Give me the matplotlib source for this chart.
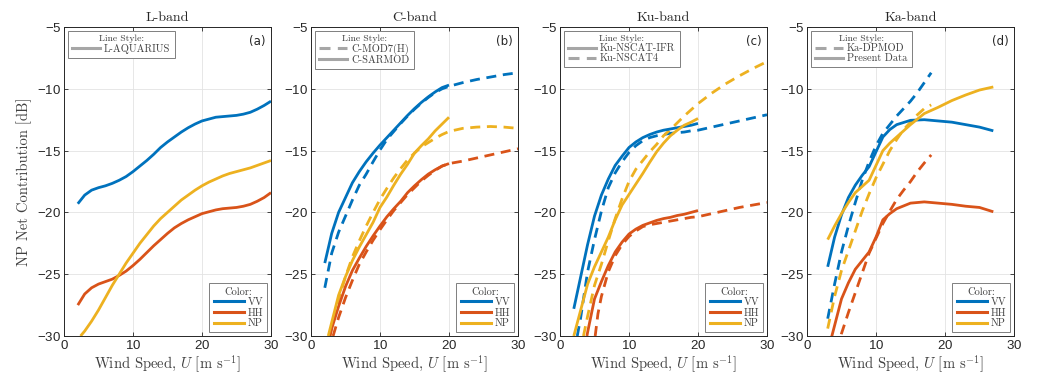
import matplotlib
matplotlib.use("Agg")
import matplotlib.pyplot as plt
from matplotlib.lines import Line2D

plt.rcParams['font.family'] = 'serif'
plt.rcParams['font.serif'] = ['cmr10']
plt.rcParams['mathtext.fontset'] = 'cm'
plt.rcParams['axes.formatter.use_mathtext'] = True

C_VV = '#0072BD'
C_HH = '#D95319'
C_NP = '#EDB120'

# ---------------- L-band ----------------
L_U = [2, 3, 4, 5, 6, 7, 8, 9, 10, 11, 12, 13, 14, 15, 16, 17, 18, 19, 20,
       21, 22, 23, 24, 25, 26, 27, 28, 29, 30]
L_VV = [-19.3, -18.6, -18.2, -18.0, -17.85, -17.65, -17.4, -17.1, -16.7, -16.25,
        -15.8, -15.3, -14.75, -14.3, -13.9, -13.5, -13.15, -12.85, -12.6, -12.45,
        -12.3, -12.25, -12.2, -12.15, -12.05, -11.9, -11.65, -11.35, -11.0]
L_HH = [-27.5, -26.6, -26.1, -25.8, -25.6, -25.4, -25.1, -24.75, -24.3, -23.8,
        -23.25, -22.7, -22.2, -21.7, -21.25, -20.9, -20.6, -20.35, -20.1, -19.95,
        -19.8, -19.7, -19.65, -19.6, -19.5, -19.35, -19.1, -18.8, -18.4]
L_NP_U = [2.4, 3, 4, 5, 6, 7, 8, 9, 10, 11, 12, 13, 14, 15, 16, 17, 18, 19, 20,
          21, 22, 23, 24, 25, 26, 27, 28, 29, 30]
L_NP = [-30.0, -29.6, -28.8, -27.9, -26.9, -25.9, -25.0, -24.1, -23.3, -22.5,
        -21.8, -21.1, -20.5, -20.0, -19.5, -19.0, -18.6, -18.2, -17.85, -17.55,
        -17.3, -17.05, -16.85, -16.7, -16.55, -16.4, -16.2, -16.0, -15.8]

# ---------------- C-band ----------------
C_SAR_VV_U = [2, 3, 4, 5, 6, 7, 8, 9, 10, 11, 12, 13, 14, 15, 16, 17, 18, 19, 20]
C_SAR_VV = [-24.1, -21.7, -20.0, -18.8, -17.6, -16.7, -15.9, -15.2, -14.55, -13.95,
            -13.35, -12.75, -12.15, -11.6, -11.1, -10.65, -10.25, -9.9, -9.7]
C_SAR_NP_U = [2.5, 3, 4, 5, 6, 7, 8, 9, 10, 11, 12, 13, 14, 15, 16, 17, 18, 19, 20]
C_SAR_NP = [-30.0, -28.9, -26.7, -25.2, -23.9, -22.8, -21.8, -20.8, -19.6, -18.75,
            -17.8, -16.9, -16.1, -15.2, -14.6, -14.05, -13.4, -12.85, -12.3]
C_SAR_HH_U = [2.75, 3, 4, 5, 6, 7, 8, 9, 10, 11, 12, 13, 14, 15, 16, 17, 18, 19, 20]
C_SAR_HH = [-30.0, -29.4, -27.6, -26.0, -24.7, -23.7, -22.75, -21.9, -21.1, -20.35,
            -19.7, -19.1, -18.4, -17.85, -17.35, -16.9, -16.55, -16.25, -16.05]
C_MOD_VV_U = [2, 3, 4, 5, 6, 7, 8, 9, 10, 11, 12, 13, 14, 15, 16, 17, 18, 19, 20,
              22, 24, 26, 28, 30]
C_MOD_VV = [-26.1, -23.3, -21.6, -20.3, -19.0, -17.8, -16.9, -15.9, -14.95, -14.1,
            -13.45, -12.8, -12.2, -11.65, -11.15, -10.7, -10.3, -10.0, -9.8,
            -9.5, -9.25, -9.05, -8.85, -8.7]
C_MOD_NP_U = [2.75, 3, 3.5, 4, 5, 6, 7, 8, 9, 10, 11, 12, 13, 14, 15, 16, 17, 18, 19,
              20, 22, 24, 26, 28, 30]
C_MOD_NP = [-30.0, -29.3, -28.2, -27.0, -25.2, -23.6, -22.3, -21.1, -20.0, -18.95,
            -18.05, -17.2, -16.45, -15.75, -15.2, -14.7, -14.35, -14.0, -13.7,
            -13.45, -13.2, -13.1, -13.05, -13.1, -13.2]
C_MOD_HH_U = [3.2, 4, 5, 6, 7, 8, 9, 10, 11, 12, 13, 14, 15, 16, 17, 18, 19, 20,
              22, 24, 26, 28, 30]
C_MOD_HH = [-30.0, -28.5, -26.9, -25.5, -24.2, -23.2, -22.25, -21.4, -20.6, -19.85,
            -19.2, -18.55, -18.0, -17.45, -17.0, -16.6, -16.25, -16.05,
            -15.85, -15.6, -15.35, -15.1, -14.85]

# ---------------- Ku-band ----------------
KU_IFR_VV_U = [2, 3, 4, 5, 6, 7, 8, 9, 10, 11, 12, 13, 14, 15, 16, 17, 18, 19, 20]
KU_IFR_VV = [-27.8, -25.2, -22.6, -20.3, -18.6, -17.3, -16.2, -15.45, -14.75, -14.3,
             -13.95, -13.7, -13.5, -13.35, -13.25, -13.15, -13.05, -12.95, -12.8]
KU_IFR_NP_U = [2, 3, 4, 5, 6, 7, 8, 9, 10, 11, 12, 13, 14, 15, 16, 17, 18, 19, 20]
KU_IFR_NP = [-30.0, -27.9, -25.8, -24.4, -23.2, -22.0, -20.6, -19.4, -18.55, -17.7,
             -16.85, -15.95, -15.1, -14.4, -13.8, -13.35, -12.95, -12.7, -12.4]
KU_IFR_HH_U = [3.9, 4, 5, 6, 7, 8, 9, 10, 11, 12, 13, 14, 15, 16, 17, 18, 19, 20]
KU_IFR_HH = [-30.0, -29.7, -27.0, -25.6, -24.3, -23.2, -22.4, -21.75, -21.35, -21.05,
             -20.85, -20.65, -20.5, -20.4, -20.25, -20.15, -20.0, -19.85]
KU_N4_VV_U = [2.5, 3, 4, 5, 6, 7, 8, 9, 10, 11, 12, 13, 14, 15, 16, 17, 18, 19, 20,
              22, 24, 26, 28, 30]
KU_N4_VV = [-30.0, -28.5, -24.8, -22.2, -19.9, -18.0, -16.8, -15.9, -15.15, -14.6,
            -14.2, -13.95, -13.8, -13.7, -13.6, -13.55, -13.5, -13.4, -13.35,
            -13.1, -12.85, -12.6, -12.35, -12.1]
KU_N4_NP_U = [3.4, 4, 5, 6, 7, 8, 9, 10, 11, 12, 13, 14, 15, 16, 17, 18, 19, 20,
              22, 24, 26, 28, 30]
KU_N4_NP = [-30.0, -28.4, -25.9, -24.2, -22.3, -20.5, -18.9, -17.5, -16.5, -15.8,
            -15.1, -14.5, -13.8, -13.3, -12.75, -12.2, -11.7, -11.2,
            -10.35, -9.6, -8.95, -8.35, -7.8]
KU_N4_HH_U = [5.1, 5.5, 6, 7, 8, 9, 10, 11, 12, 13, 14, 15, 16, 17, 18, 19, 20,
              22, 24, 26, 28, 30]
KU_N4_HH = [-30.0, -28.2, -26.8, -24.8, -23.5, -22.6, -21.95, -21.5, -21.15, -21.0,
            -20.9, -20.8, -20.7, -20.6, -20.5, -20.4, -20.35,
            -20.1, -19.85, -19.6, -19.4, -19.2]

# ---------------- Ka-band ----------------
KA_U = [3, 4, 5, 6, 7, 8, 9, 10, 11, 12, 13, 15, 17, 19, 21, 23, 25, 27]
KA_VV = [-24.4, -22.0, -20.2, -18.8, -17.8, -17.0, -16.3, -15.1, -13.9, -13.3,
         -12.9, -12.55, -12.5, -12.6, -12.7, -12.9, -13.1, -13.4]
KA_NP = [-22.2, -21.1, -20.1, -19.2, -18.4, -17.9, -17.4, -16.2, -15.0, -14.4,
         -13.9, -12.9, -12.0, -11.5, -10.95, -10.5, -10.1, -9.85]
KA_HH = [-31.3, -29.15, -27.0, -25.7, -24.6, -23.9, -23.2, -22.0, -20.6, -20.1,
         -19.7, -19.25, -19.15, -19.25, -19.35, -19.5, -19.6, -19.95]
KA_DP_U = [3, 4, 5, 6, 7, 8, 9, 10, 11, 12, 13, 14, 15, 16, 17, 18]
KA_DP_VV = [-28.6, -25.8, -23.2, -21.1, -19.2, -17.4, -15.9, -14.6, -13.6, -12.9,
            -12.2, -11.6, -11.0, -10.3, -9.5, -8.7]
KA_DP_NP = [-29.4, -26.8, -24.7, -23.1, -21.5, -19.9, -18.5, -17.2, -16.1, -15.0,
            -14.1, -13.3, -12.7, -12.1, -11.6, -11.3]
KA_DP_HH_U = [4, 5, 6, 7, 8, 9, 10, 11, 12, 13, 14, 15, 16, 17, 18]
KA_DP_HH = [-32.5, -29.8, -28.1, -26.5, -24.9, -23.3, -22.1, -20.9, -19.9, -18.95,
            -18.2, -17.5, -16.7, -16.0, -15.35]

TITLES = ['L-band', 'C-band', 'Ku-band', 'Ka-band']
PANEL_LABELS = ['(a)', '(b)', '(c)', '(d)']
X_TICKS = [0, 10, 20, 30]
Y_TICKS = [-30, -25, -20, -15, -10, -5]

SOLID = '-'
DASH = (0, (3.6, 2.4))

panels = [
    ([(L_U, L_VV, C_VV, SOLID), (L_U, L_HH, C_HH, SOLID), (L_NP_U, L_NP, C_NP, SOLID)],
     [(SOLID, 'L-AQUARIUS')]),
    ([(C_MOD_VV_U, C_MOD_VV, C_VV, DASH), (C_MOD_HH_U, C_MOD_HH, C_HH, DASH),
      (C_MOD_NP_U, C_MOD_NP, C_NP, DASH),
      (C_SAR_VV_U, C_SAR_VV, C_VV, SOLID), (C_SAR_HH_U, C_SAR_HH, C_HH, SOLID),
      (C_SAR_NP_U, C_SAR_NP, C_NP, SOLID)],
     [(DASH, 'C-MOD7(H)'), (SOLID, 'C-SARMOD')]),
    ([(KU_N4_VV_U, KU_N4_VV, C_VV, DASH), (KU_N4_HH_U, KU_N4_HH, C_HH, DASH),
      (KU_N4_NP_U, KU_N4_NP, C_NP, DASH),
      (KU_IFR_VV_U, KU_IFR_VV, C_VV, SOLID), (KU_IFR_HH_U, KU_IFR_HH, C_HH, SOLID),
      (KU_IFR_NP_U, KU_IFR_NP, C_NP, SOLID)],
     [(SOLID, 'Ku-NSCAT-IFR'), (DASH, 'Ku-NSCAT4')]),
    ([(KA_DP_U, KA_DP_VV, C_VV, DASH), (KA_DP_HH_U, KA_DP_HH, C_HH, DASH),
      (KA_DP_U, KA_DP_NP, C_NP, DASH),
      (KA_U, KA_VV, C_VV, SOLID), (KA_U, KA_HH, C_HH, SOLID), (KA_U, KA_NP, C_NP, SOLID)],
     [(DASH, 'Ka-DPMOD'), (SOLID, 'Present Data')]),
]

fig = plt.figure(figsize=(10.38, 3.81), dpi=100)
W, H = 1038.0, 381.0
lefts = [64, 311, 560, 807]
aw = 207
top_px, bot_px = 27, 336
TXT = '#262626'
LBL = '#404040'

for i, (lines, styles) in enumerate(panels):
    ax = fig.add_axes([lefts[i] / W, 1 - bot_px / H, aw / W, (bot_px - top_px) / H])
    for (u, v, c, ls) in lines:
        ax.plot(u, v, color=c, linestyle=ls, linewidth=2.0, solid_capstyle='butt',
                dash_capstyle='butt')
    ax.set_xlim(0, 30)
    ax.set_ylim(-30, -5)
    ax.set_xticks(X_TICKS)
    ax.set_yticks(Y_TICKS)
    ax.grid(True, color='#e3e3e3', linewidth=0.6)
    ax.set_axisbelow(True)
    ax.tick_params(direction='in', top=True, right=True, length=3, width=0.6,
                   color=TXT, labelsize=9.5, labelcolor=TXT,
                   labelfontfamily='Liberation Sans', pad=2)
    for s in ax.spines.values():
        s.set_color(TXT)
        s.set_linewidth(0.7)
    ax.set_title(TITLES[i], fontsize=10, color=TXT, pad=4)
    ax.set_xlabel(r'Wind Speed, $U$ [m s$^{-1}$]', fontsize=10.5, color=LBL, labelpad=1)
    if i == 0:
        ax.set_ylabel('NP Net Contribution [dB]', fontsize=10.5, color=LBL, labelpad=4)
    ax.text(0.975, 0.975, PANEL_LABELS[i], transform=ax.transAxes, ha='right', va='top',
            fontsize=8.5, family='DejaVu Sans', color=TXT)

    h1 = [Line2D([], [], color='#a6a6a6', linestyle=ls, linewidth=2.2) for ls, _ in styles]
    leg1 = ax.legend(h1, [n for _, n in styles], loc='upper left', title='Line Style:',
                     fontsize=7.5, title_fontsize=7, handlelength=2.7, handletextpad=0.4,
                     borderaxespad=0.35, borderpad=0.4, labelspacing=0.05,
                     fancybox=False, framealpha=1, edgecolor='#7f7f7f')
    leg1.get_frame().set_linewidth(0.7)
    for t in leg1.get_texts():
        t.set_color(LBL)
    leg1.get_title().set_color(LBL)
    ax.add_artist(leg1)

    h2 = [Line2D([], [], color=c, linewidth=2.2) for c in (C_VV, C_HH, C_NP)]
    leg2 = ax.legend(h2, ['VV', 'HH', 'NP'], loc='lower right', title='Color:',
                     fontsize=7.5, title_fontsize=7.5, handlelength=2.9, handletextpad=0.35,
                     borderaxespad=0.35, borderpad=0.4, labelspacing=0.1,
                     fancybox=False, framealpha=1, edgecolor='#7f7f7f')
    leg2.get_frame().set_linewidth(0.7)
    for t in leg2.get_texts():
        t.set_color(LBL)
    leg2.get_title().set_color(LBL)

fig.savefig('out.png', dpi=100)
